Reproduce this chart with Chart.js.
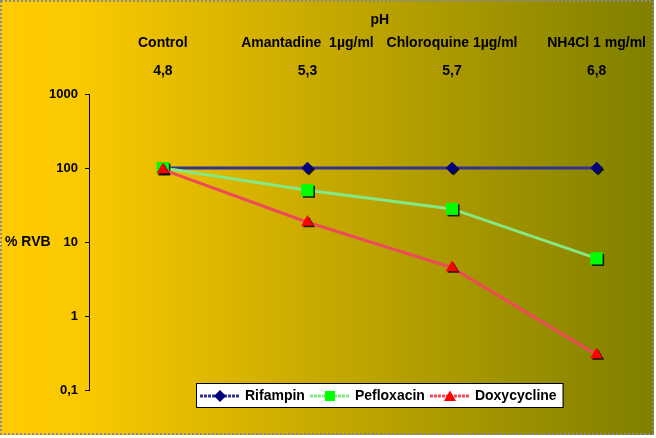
<!DOCTYPE html>
<html>
<head>
<meta charset="utf-8">
<script src="https://cdn.jsdelivr.net/npm/chart.js@4.4.0/dist/chart.umd.min.js"></script>
<style>
  html, body { margin: 0; padding: 0; background: #fff; }
</style>
</head>
<body>
<canvas id="chart" width="656" height="438"></canvas>
<script>
const categories = ['Control', 'Amantadine  1µg/ml', 'Chloroquine 1µg/ml', 'NH4Cl 1 mg/ml'];
const phValues = ['4,8', '5,3', '5,7', '6,8'];
const rifampin = [100, 100, 100, 100];
const pefloxacin = [100, 50, 28, 6];
const doxycycline = [95, 18.5, 4.5, 0.3];
const yTicks = [0.1, 1, 10, 100, 1000];
const xTitle = 'pH';
const yLabel = '% RVB';

const FONT = 'Arial, "Liberation Sans", sans-serif';

// little line + marker pictures for the legend
function legendIcon(color, lineColor, style) {
    const c = document.createElement('canvas');
    c.width = 40; c.height = 14;
    const ctx = c.getContext('2d');
    ctx.strokeStyle = lineColor;
    ctx.lineWidth = 3;
    ctx.setLineDash([3, 1]);
    ctx.beginPath();
    ctx.moveTo(0, 7);
    ctx.lineTo(40, 7);
    ctx.stroke();
    ctx.fillStyle = color;
    ctx.beginPath();
    if (style === 'rectRot') {
        ctx.moveTo(20, 1); ctx.lineTo(26, 7); ctx.lineTo(20, 13); ctx.lineTo(14, 7);
    } else if (style === 'rect') {
        ctx.rect(15, 2, 10, 10);
    } else {
        ctx.moveTo(20, 1.5); ctx.lineTo(26, 12); ctx.lineTo(14, 12);
    }
    ctx.closePath();
    ctx.fill();
    return c;
}

function toPoints(arr) {
    return arr.map((v, i) => ({ x: i, y: v }));
}

const series = [
    { label: 'Rifampin', data: rifampin, line: '#33338f', color: '#000080', style: 'rectRot', radius: 6, order: 2 },
    { label: 'Pefloxacin', data: pefloxacin, line: '#85e882', color: '#00ff00', style: 'rect', radius: 8.5, order: 1 },
    { label: 'Doxycycline', data: doxycycline, line: '#ee4a58', color: '#ff0000', style: 'triangle', radius: 7, order: 0 }
];

const decorPlugin = {
    id: 'decor',
    afterInit(chart) {
        const lg = chart.legend;
        const fit = lg.fit;
        lg.fit = function () {
            fit.bind(this)();
            this.height = 0;
        };
    },
    afterLayout(chart) {
        const lg = chart.legend;
        lg.top = chart.chartArea.bottom - 8;
        lg.bottom = lg.top + 24;
        lg.left = 195;
        lg.right = 640;
    },
    beforeDraw(chart) {
        const ctx = chart.ctx;
        ctx.save();
        ctx.fillStyle = '#fff';
        ctx.fillRect(0, 0, chart.width, chart.height);
        const g = ctx.createLinearGradient(0, 0, 654, 0);
        g.addColorStop(0, '#ffcc00');
        g.addColorStop(0.12, '#fbc900');
        g.addColorStop(1, '#7f7f00');
        ctx.fillStyle = g;
        ctx.fillRect(0, 0, 654, 435);
        ctx.setLineDash([2, 2]);
        ctx.strokeStyle = '#8a8a8a';
        ctx.lineWidth = 2;
        ctx.strokeRect(1, 1, 652, 433);
        ctx.setLineDash([]);

        // white legend frame around the legend items
        const lg = chart.legend;
        const pad = lg.options.labels.padding;
        const boxes = lg.legendHitBoxes;
        const w = boxes.reduce((sum, b) => sum + b.width, 0) + pad * (boxes.length - 1);
        const x0 = lg.left + pad - 6;
        const y0 = lg.top + 1;
        ctx.fillStyle = '#fff';
        ctx.fillRect(x0, y0, w + 12, 24);
        ctx.strokeStyle = '#000';
        ctx.lineWidth = 1;
        ctx.strokeRect(x0 + 0.5, y0 + 0.5, w + 12, 24);
        ctx.restore();
    },
    afterDatasetDraw(chart, args) {
        // markers carry a small dark drop shadow
        const ctx = chart.ctx;
        ctx.save();
        ctx.shadowColor = 'rgba(0,0,0,0.85)';
        ctx.shadowOffsetX = 1.5;
        ctx.shadowOffsetY = 1.5;
        ctx.shadowBlur = 0;
        args.meta.data.forEach(p => p.draw(ctx, chart.chartArea));
        ctx.restore();
    },
    afterDraw(chart) {
        const ctx = chart.ctx;
        const x = chart.scales.x;
        ctx.save();
        ctx.fillStyle = '#000';
        ctx.font = 'bold 14px ' + FONT;
        ctx.textBaseline = 'middle';
        ctx.textAlign = 'left';
        ctx.fillText(yLabel, 5, chart.scales.y.getPixelForValue(10));
        ctx.textAlign = 'center';
        ctx.fillText(xTitle, (x.getPixelForValue(1) + x.getPixelForValue(2)) / 2, 20);
        ctx.restore();
    }
};

new Chart(document.getElementById('chart'), {
    type: 'line',
    data: {
        datasets: series.map(s => ({
            label: s.label,
            data: toPoints(s.data),
            borderColor: s.line,
            borderWidth: 3,
            backgroundColor: s.color,
            pointBackgroundColor: s.color,
            pointBorderColor: s.color,
            pointBorderWidth: 0,
            pointStyle: s.style,
            pointRadius: s.radius,
            order: s.order,
            tension: 0
        }))
    },
    options: {
        responsive: false,
        animation: false,
        layout: { padding: { top: 8, right: 0, left: 0, bottom: 48 } },
        plugins: {
            tooltip: { enabled: false },
            legend: {
                position: 'bottom',
                align: 'start',
                labels: {
                    usePointStyle: true,
                    pointStyleWidth: 36,
                    padding: 7,
                    color: '#000',
                    font: { family: FONT, size: 14, weight: 'bold' },
                    sort: (a, b) => a.datasetIndex - b.datasetIndex,
                    generateLabels(chart) {
                        const items = Chart.defaults.plugins.legend.labels.generateLabels(chart);
                        items.forEach(it => {
                            const s = series[it.datasetIndex];
                            it.pointStyle = legendIcon(s.color, s.line, s.style);
                        });
                        return items;
                    }
                }
            }
        },
        scales: {
            x: {
                type: 'linear',
                position: 'top',
                min: -0.511,
                max: 3.352,
                grid: { display: false },
                border: { display: false },
                afterBuildTicks: s => { s.ticks = categories.map((c, i) => ({ value: i })); },
                afterFit: s => { s.height = 86; },
                ticks: {
                    autoSkip: false,
                    maxRotation: 0,
                    color: '#000',
                    padding: 1,
                    font: { family: FONT, size: 14, weight: 'bold', lineHeight: 2 },
                    callback: v => [categories[v], phValues[v]]
                },
                title: { display: false }
            },
            y: {
                type: 'logarithmic',
                min: 0.1,
                max: 1000,
                afterBuildTicks: s => { s.ticks = yTicks.map(v => ({ value: v })); },
                afterFit: s => { s.width = 89; },
                grid: { display: true, drawOnChartArea: false, tickLength: 4, color: '#000' },
                border: { display: true, color: '#000', width: 1 },
                ticks: {
                    color: '#000',
                    padding: 7,
                    font: { family: FONT, size: 13, weight: 'bold' },
                    callback: v => String(v).replace('.', ',')
                }
            }
        }
    },
    plugins: [decorPlugin]
});
</script>
</body>
</html>
